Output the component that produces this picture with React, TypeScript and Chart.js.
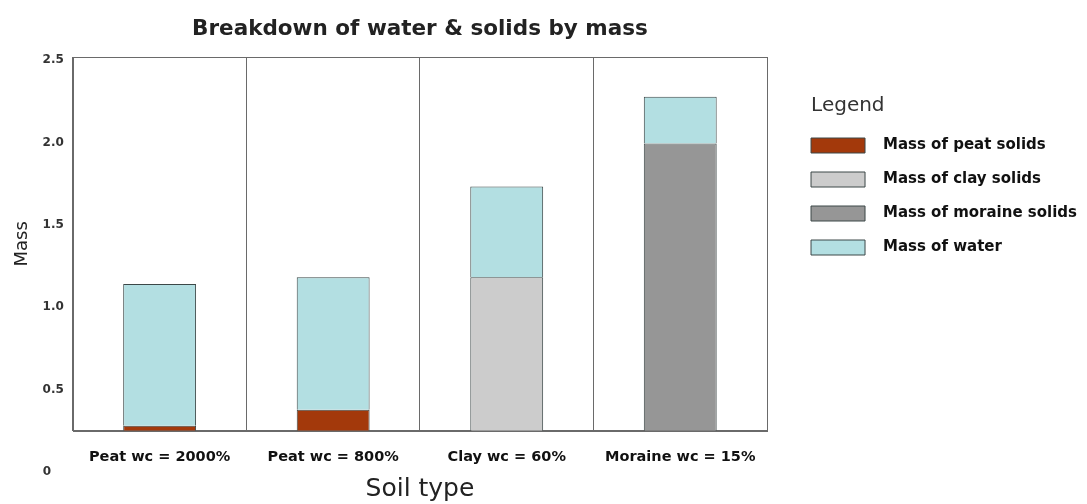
import React, { useEffect, useRef } from "react";
import { Chart, registerables } from "chart.js";

Chart.register(...registerables);

const CATEGORIES = ["Peat wc = 2000%", "Peat wc = 800%", "Clay wc = 60%", "Moraine wc = 15%"];
const PEAT_SOLIDS = [0.28, 0.376, null, null];
const CLAY_SOLIDS = [null, null, 1.182, null];
const MORAINE_SOLIDS = [null, null, null, 1.994];
const WATER = [0.86, 0.806, 0.551, 0.285];
const Y_TICKS = [0.5, 1.0, 1.5, 2.0, 2.5];
const Y_MIN = 0.25;
const Y_MAX = 2.52;
const ZERO_LABEL = 0;

const FONT = "'DejaVu Sans', 'Liberation Sans', sans-serif";

const framePlugin = {
  id: "frame",
  beforeDatasetsDraw(chart: any) {
    const { ctx, chartArea } = chart;
    ctx.save();
    ctx.strokeStyle = "#6a6a6a";
    ctx.lineWidth = 1;
    ctx.strokeRect(
      Math.round(chartArea.left) + 0.5,
      Math.round(chartArea.top) + 0.5,
      Math.round(chartArea.right - chartArea.left),
      Math.round(chartArea.bottom - chartArea.top)
    );
    ctx.restore();
  },
  afterDraw(chart: any) {
    const { ctx } = chart;
    const y = chart.scales.y;
    ctx.save();
    ctx.font = `bold 12px ${FONT}`;
    ctx.fillStyle = "#333";
    ctx.textAlign = "left";
    ctx.textBaseline = "middle";
    ctx.fillText(String(ZERO_LABEL), y.right - 30, y.getPixelForValue(ZERO_LABEL));
    ctx.restore();
  },
};

export default function App() {
  const ref = useRef<HTMLCanvasElement>(null);
  useEffect(() => {
    document.body.style.margin = "0";
    const border = "#3c4848";
    const chart = new Chart(ref.current!, {
      type: "bar",
      data: {
        labels: CATEGORIES,
        datasets: [
          { label: "Mass of peat solids", data: PEAT_SOLIDS as any, backgroundColor: "#a3390b", borderColor: border, borderWidth: 1 },
          { label: "Mass of clay solids", data: CLAY_SOLIDS as any, backgroundColor: "#cccccc", borderColor: border, borderWidth: 1 },
          { label: "Mass of moraine solids", data: MORAINE_SOLIDS as any, backgroundColor: "#969696", borderColor: border, borderWidth: 1 },
          { label: "Mass of water", data: WATER, backgroundColor: "#b3dfe2", borderColor: border, borderWidth: 1 },
        ],
      },
      options: {
        responsive: false,
        animation: false,
        devicePixelRatio: 1,
        datasets: { bar: { barPercentage: 0.42, categoryPercentage: 1 } },
        layout: { padding: { left: 12, right: 0, top: 10, bottom: 0 } },
        plugins: {
          title: {
            display: true,
            fullSize: false,
            text: "Breakdown of water & solids by mass",
            color: "#222",
            font: { family: FONT, size: 21.5, weight: "bold" },
            padding: { top: 7, bottom: 14.2 },
          },
          legend: {
            position: "right",
            align: "start",
            maxWidth: 340,
            title: {
              display: true,
              text: "   Legend",
              position: "start",
              color: "#333",
              font: { family: FONT, size: 20 },
              padding: { top: 86, bottom: -1 },
            },
            labels: {
              boxWidth: 54,
              boxHeight: 15,
              padding: 19,
              color: "#111",
              font: { family: FONT, size: 15, weight: "bold" },
              generateLabels(chart: any) {
                const items = Chart.defaults.plugins.legend.labels.generateLabels(chart);
                return items.map((it: any) => ({ ...it, text: "  " + it.text }));
              },
            },
          },
          tooltip: { enabled: false },
        },
        scales: {
          x: {
            stacked: true,
            grid: { offset: true, color: "#6a6a6a", lineWidth: 1, drawTicks: false },
            border: { display: true, color: "#6a6a6a" },
            ticks: { color: "#111", font: { family: FONT, size: 14.5, weight: "bold" }, padding: 18 },
            title: { display: true, text: "Soil type", color: "#222", font: { family: FONT, size: 25 }, padding: { top: -10, bottom: 0 } },
          },
          y: {
            stacked: true,
            min: Y_MIN,
            max: Y_MAX,
            afterBuildTicks(scale: any) {
              scale.ticks = Y_TICKS.map((v) => ({ value: v }));
            },
            grid: { display: false, drawTicks: false },
            border: { display: true, color: "#6a6a6a" },
            ticks: {
              color: "#333",
              font: { family: FONT, size: 12, weight: "bold" },
              padding: 9,
              callback: (v: any) => Number(v).toFixed(1),
            },
            title: { display: true, text: "Mass", color: "#222", font: { family: FONT, size: 18 }, padding: { top: 0, bottom: 0 } },
          },
          gap: {
            type: "linear",
            position: "right",
            display: true,
            grid: { display: false, drawTicks: false },
            border: { display: false },
            ticks: { display: false },
            afterFit(scale: any) {
              scale.width = 25;
            },
          },
        },
      },
      plugins: [framePlugin],
    });
    return () => chart.destroy();
  }, []);
  return (
    <div style={{ width: 1087, height: 504 }}>
      <canvas ref={ref} width={1087} height={504} />
    </div>
  );
}
